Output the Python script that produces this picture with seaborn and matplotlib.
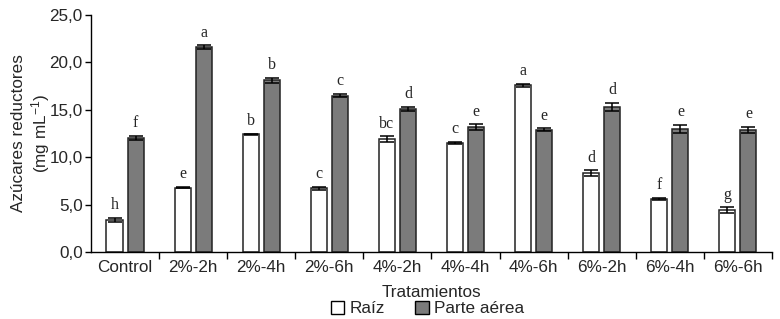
import pandas as pd
import seaborn as sns
import matplotlib.pyplot as plt
from matplotlib.ticker import FuncFormatter, FixedLocator
from matplotlib.patches import Patch

tratamientos = ['Control', '2%-2h', '2%-4h', '2%-6h', '4%-2h',
                '4%-4h', '4%-6h', '6%-2h', '6%-4h', '6%-6h']
raiz = [3.4, 6.8, 12.4, 6.7, 11.9, 11.5, 17.6, 8.3, 5.6, 4.4]
raiz_err = [0.2, 0.1, 0.1, 0.2, 0.3, 0.15, 0.15, 0.3, 0.1, 0.3]
aerea = [12.05, 21.6, 18.1, 16.5, 15.1, 13.15, 12.9, 15.3, 13.0, 12.9]
aerea_err = [0.2, 0.2, 0.3, 0.15, 0.2, 0.3, 0.15, 0.4, 0.4, 0.3]
letras_raiz = ['h', 'e', 'b', 'c', 'bc', 'c', 'a', 'd', 'f', 'g']
letras_aerea = ['f', 'a', 'b', 'c', 'd', 'e', 'e', 'd', 'e', 'e']

df = pd.DataFrame({
    'Tratamiento': tratamientos * 2,
    'valor': raiz + aerea,
    'err': raiz_err + aerea_err,
    'letra': letras_raiz + letras_aerea,
    'Parte': ['Raíz'] * 10 + ['Parte aérea'] * 10,
})

sns.set_style('ticks')
plt.rcParams['font.family'] = ['Liberation Sans', 'DejaVu Sans']
plt.rcParams['mathtext.default'] = 'regular'
fs = 12.3

fig = plt.figure(figsize=(7.8, 3.19), dpi=100)
ax = fig.add_axes([0.1167, 0.21, 0.873, 0.743])

colores = {'Raíz': 'white', 'Parte aérea': '#7b7b7b'}
sns.barplot(data=df, x='Tratamiento', y='valor', hue='Parte',
            palette=colores, width=0.62, gap=0.24, errorbar=None,
            edgecolor='#222222', linewidth=1.1, legend=False, ax=ax)

# error bars and letters from the bar positions
for cont, parte in zip(ax.containers, ['Raíz', 'Parte aérea']):
    sub = df[df['Parte'] == parte].reset_index(drop=True)
    for bar, (_, row) in zip(cont, sub.iterrows()):
        xc = bar.get_x() + bar.get_width() / 2
        ax.errorbar(xc, row['valor'], yerr=row['err'], color='black',
                    capsize=5, elinewidth=1.1, capthick=1.1)
        ax.text(xc, row['valor'] + row['err'] + 0.5, row['letra'],
                ha='center', va='bottom', fontsize=11.5,
                family='Liberation Serif')

ax.set_ylim(0, 25)
ax.set_xlim(-0.5, 9.5)
ax.set_yticks([0, 5, 10, 15, 20, 25])
ax.yaxis.set_major_formatter(FuncFormatter(lambda v, p: f'{v:.1f}'.replace('.', ',')))
ax.xaxis.set_minor_locator(FixedLocator([i + 0.5 for i in range(10)]))
ax.tick_params(axis='x', which='major', length=0, labelsize=fs, pad=6)
ax.tick_params(axis='x', which='minor', length=5, width=1, color='black')
ax.tick_params(axis='y', length=4, width=1, color='black', labelsize=fs, pad=2)
for s in ['top', 'right']:
    ax.spines[s].set_visible(False)
for s in ['left', 'bottom']:
    ax.spines[s].set_color('black')
    ax.spines[s].set_linewidth(1)

ax.set_xlabel('Tratamientos', fontsize=fs, labelpad=7)
ax.set_ylabel('Azúcares reductores\n(mg mL$^{-1}$)', fontsize=fs, labelpad=-2)

handles = [Patch(facecolor=colores[p], edgecolor='black', label=p)
           for p in ['Raíz', 'Parte aérea']]
fig.legend(handles=handles, loc='lower center', bbox_to_anchor=(0.548, -0.04),
           ncol=2, frameon=False, fontsize=fs, handlelength=0.8,
           handleheight=0.8, handletextpad=0.3, columnspacing=1.8)

fig.savefig('out.png', dpi=100)
